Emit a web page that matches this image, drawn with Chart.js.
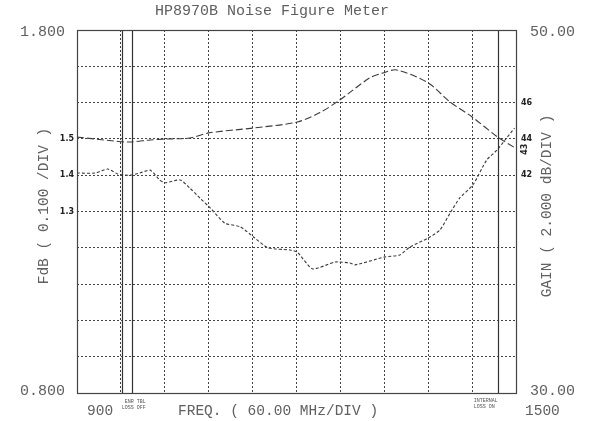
<!DOCTYPE html>
<html>
<head>
<meta charset="utf-8">
<script src="https://cdn.jsdelivr.net/npm/chart.js@4.4.0/dist/chart.umd.min.js"></script>
<style>
  html, body { margin: 0; padding: 0; background: #fff; }
  #wrap { width: 595px; height: 421px; }
</style>
</head>
<body>
<div id="wrap"><canvas id="nfm"></canvas></div>
<script>
// noise figure trace (left axis, dB)
const nfFreq = [900, 925, 942, 956, 972, 986, 1000, 1013, 1020, 1041, 1054, 1068, 1082, 1102, 1123, 1143, 1161, 1191, 1201, 1222, 1253, 1273, 1280, 1321, 1341, 1355, 1380, 1396, 1410, 1423, 1441, 1460, 1474, 1485, 1498];
const nfValues = [1.406, 1.406, 1.417, 1.403, 1.400, 1.406, 1.414, 1.387, 1.379, 1.387, 1.365, 1.337, 1.310, 1.268, 1.258, 1.227, 1.200, 1.194, 1.188, 1.142, 1.161, 1.158, 1.153, 1.175, 1.180, 1.202, 1.227, 1.249, 1.296, 1.337, 1.373, 1.442, 1.469, 1.497, 1.530];

// gain trace (right axis, dB)
const gainFreq = [900, 952, 972, 1000, 1020, 1054, 1080, 1141, 1201, 1232, 1259, 1300, 1318, 1337, 1380, 1410, 1440, 1475, 1499];
const gainValues = [44.10, 43.88, 43.83, 43.94, 43.99, 44.05, 44.33, 44.60, 44.93, 45.45, 46.14, 47.36, 47.63, 47.80, 47.08, 46.03, 45.21, 44.10, 43.50];

// marker lines (MHz)
const markerFreqs = [961, 975, 1475];

// axis end labels
const nfTickLabels = ['0.800', '1.800'];
const gainTickLabels = ['30.00', '50.00'];
const freqTickLabels = ['900', '1500'];

// handwritten notes on the plot
const nfNotes = [['1.5', 1.5], ['1.4', 1.4], ['1.3', 1.3]];
const gainNotes = [['46', 46], ['44', 44], ['42', 42]];

const ink = '#606060';
const mono = '"Liberation Mono", "DejaVu Sans Mono", monospace';

const textPlugin = {
    id: 'hpText',
    afterDatasetsDraw(chart) {
        const ctx = chart.ctx;
        const a = chart.chartArea;
        const x = chart.scales.x, y = chart.scales.y, y2 = chart.scales.y2;
        ctx.save();

        // solid marker lines
        ctx.strokeStyle = '#333';
        ctx.lineWidth = 1.2;
        markerFreqs.forEach(f => {
            const px = Math.round(x.getPixelForValue(f)) + 0.5;
            ctx.beginPath();
            ctx.moveTo(px, a.top);
            ctx.lineTo(px, a.bottom);
            ctx.stroke();
        });

        // frame
        ctx.strokeStyle = '#444';
        ctx.lineWidth = 1.2;
        ctx.strokeRect(a.left + 0.5, a.top + 0.5, a.right - a.left, a.bottom - a.top);

        ctx.fillStyle = ink;
        ctx.font = '15px ' + mono;
        ctx.textBaseline = 'middle';

        // title
        ctx.textAlign = 'left';
        ctx.fillText('HP8970B Noise Figure Meter', 155, 11);

        // left end labels
        ctx.textAlign = 'right';
        ctx.fillText(nfTickLabels[1], a.left - 12, y.getPixelForValue(1.8) + 2);
        ctx.fillText(nfTickLabels[0], a.left - 12, y.getPixelForValue(0.8) - 2);

        // right end labels
        ctx.textAlign = 'left';
        ctx.fillText(gainTickLabels[1], a.right + 14, y2.getPixelForValue(50) + 2);
        ctx.fillText(gainTickLabels[0], a.right + 14, y2.getPixelForValue(30) - 2);

        // bottom labels
        ctx.font = '14.5px ' + mono;
        ctx.textBaseline = 'alphabetic';
        ctx.fillText(freqTickLabels[0], x.getPixelForValue(900) + 10, 415);
        ctx.fillText(freqTickLabels[1], x.getPixelForValue(1500) + 9, 415);
        ctx.fillText('FREQ. ( 60.00 MHz/DIV )', 178, 415);

        // vertical titles, both reading bottom to top
        ctx.textAlign = 'center';
        ctx.textBaseline = 'middle';
        [['FdB ( 0.100 /DIV )', 44], ['GAIN ( 2.000 dB/DIV )', 547]].forEach(([t, cx]) => {
            ctx.save();
            ctx.translate(cx, 206);
            ctx.rotate(-Math.PI / 2);
            ctx.fillText(t, 0, 0);
            ctx.restore();
        });

        // hand notes
        ctx.fillStyle = '#222';
        ctx.font = 'bold 8px "DejaVu Sans", sans-serif';
        ctx.textAlign = 'right';
        nfNotes.forEach(([t, v]) => ctx.fillText(t, a.left - 3, y.getPixelForValue(v)));
        ctx.textAlign = 'left';
        gainNotes.forEach(([t, v]) => ctx.fillText(t, a.right + 5, y2.getPixelForValue(v)));
        ctx.save();
        ctx.translate(a.right + 9, y2.getPixelForValue(43.4));
        ctx.rotate(-Math.PI / 2);
        ctx.fillText('43', -5, 0);
        ctx.restore();

        // tiny marker notes under the frame
        ctx.fillStyle = '#555';
        ctx.font = '5px ' + mono;
        ctx.textAlign = 'left';
        ctx.fillText('ENR TBL', x.getPixelForValue(961) + 3, 402);
        ctx.fillText('LOSS OFF', x.getPixelForValue(961), 408);
        ctx.fillText('INTERNAL', x.getPixelForValue(1475) - 24, 401);
        ctx.fillText('LOSS ON', x.getPixelForValue(1475) - 24, 407);

        ctx.restore();
    }
};

new Chart(document.getElementById('nfm'), {
    type: 'line',
    data: {
        datasets: [{
            label: 'Noise figure',
            data: nfFreq.map((f, i) => ({ x: f, y: nfValues[i] })),
            yAxisID: 'y',
            borderColor: '#3a3a3a',
            borderWidth: 1.1,
            borderDash: [3, 2],
            pointRadius: 0,
            tension: 0.2
        }, {
            label: 'Gain',
            data: gainFreq.map((f, i) => ({ x: f, y: gainValues[i] })),
            yAxisID: 'y2',
            borderColor: '#3a3a3a',
            borderWidth: 1.1,
            borderDash: [7, 3],
            pointRadius: 0,
            tension: 0.3
        }]
    },
    options: {
        responsive: true,
        maintainAspectRatio: false,
        animation: false,
        layout: { padding: { left: 77, right: 79, top: 30, bottom: 28 } },
        plugins: { legend: { display: false }, tooltip: { enabled: false } },
        scales: {
            x: {
                type: 'linear',
                min: 900,
                max: 1500,
                ticks: { stepSize: 60, display: false },
                grid: { color: '#444', lineWidth: 1, drawTicks: false },
                border: { display: false, dash: [2, 2] }
            },
            y: {
                position: 'left',
                min: 0.8,
                max: 1.8,
                ticks: { stepSize: 0.1, display: false },
                grid: { color: '#444', lineWidth: 1, drawTicks: false },
                border: { display: false, dash: [2, 2] }
            },
            y2: {
                position: 'right',
                display: false,
                min: 30,
                max: 50
            }
        }
    },
    plugins: [textPlugin]
});
</script>
</body>
</html>
